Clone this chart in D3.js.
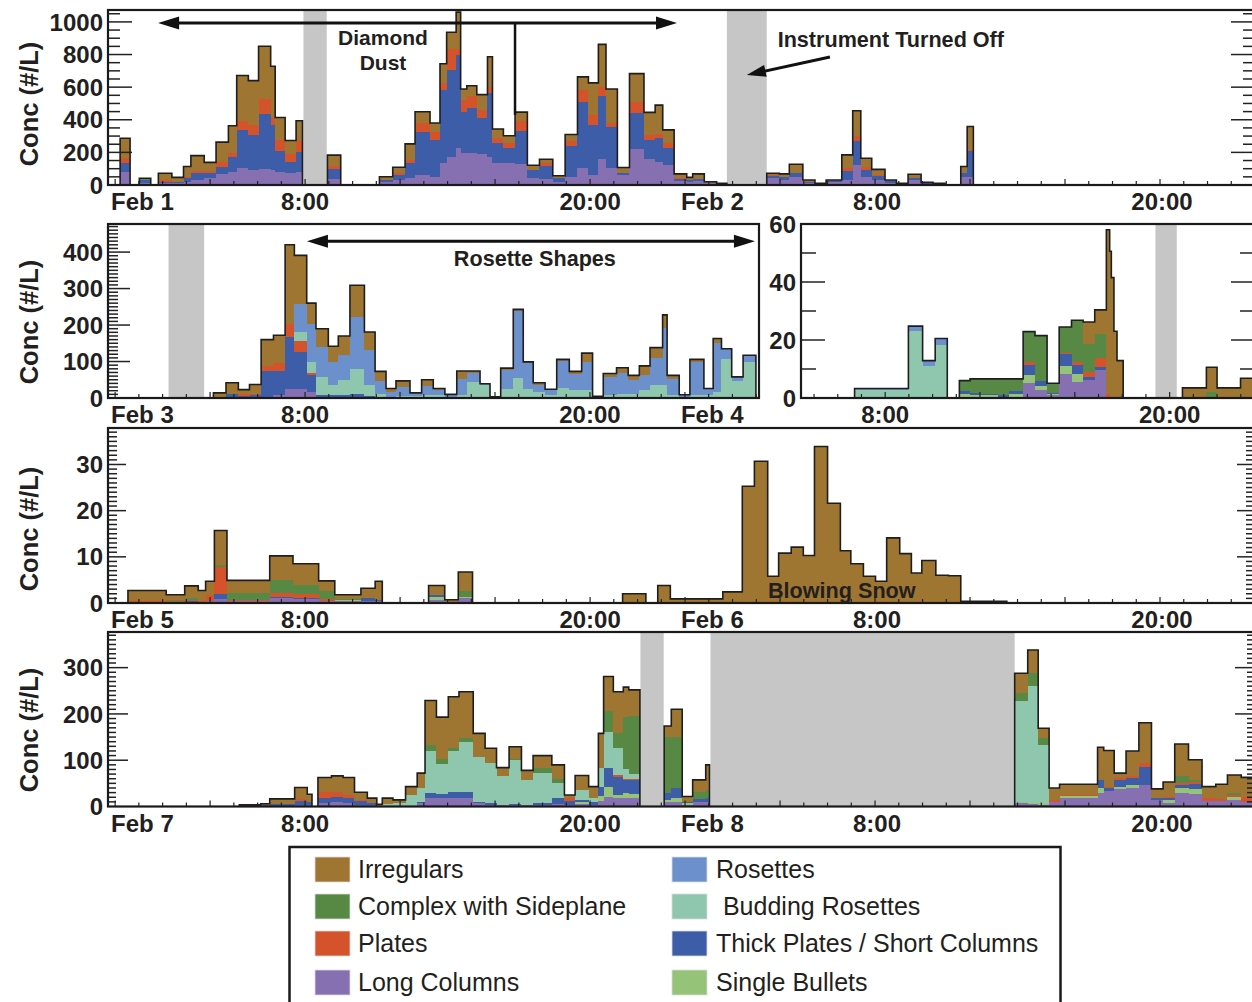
<!DOCTYPE html>
<html><head><meta charset="utf-8">
<script src="https://cdn.jsdelivr.net/npm/d3@7"></script>
<style>
html,body{margin:0;padding:0;background:#fff;overflow:hidden;}
svg{display:block;}
text{font-family:"Liberation Sans",Arial,Helvetica,sans-serif;fill:#231f20;}
</style></head><body>
<svg id="chart" width="1252" height="1002"></svg>
<script>
// ---------------- DATA ----------------
// stacking order bottom -> top
const categories = ["Long Columns","Single Bullets","Thick Plates / Short Columns","Plates","Budding Rosettes","Rosettes","Complex with Sideplane","Irregulars"];
const keys = ["LC","SB","TP","PL","BR","RO","CS","IR"];
const colors = ["#8670b2","#95c479","#3d5da8","#d4532b","#8ec7ae","#6c90cc","#578945","#9f7631"];
const legendLeft = ["Irregulars","Complex with Sideplane","Plates","Long Columns"];
const legendRight = ["Rosettes"," Budding Rosettes","Thick Plates / Short Columns","Single Bullets"];

// bins: [startHour, endHour, LC, SB, TP, PL, BR, RO, CS, IR]  (concentration #/L)
const binsFeb1_2 = [
[0.21,0.63,82,0,55,31,0,0,0,119],[1.02,1.50,10,0,22,0,0,0,3,6],[1.82,2.39,10,0,10,11,0,0,0,41],
[2.39,2.88,10,0,10,0,0,0,0,27],[2.88,3.19,20,0,21,10,0,0,0,62],[3.19,3.75,31,0,41,16,0,0,0,92],
[3.75,4.25,41,0,35,12,0,0,0,51],[4.25,4.77,68,0,45,31,0,0,0,119],[4.77,5.12,82,0,92,21,0,0,0,168],
[5.12,5.61,103,0,235,52,0,0,0,281],[5.61,6.04,92,0,216,57,0,0,0,275],[6.04,6.55,98,0,339,92,0,0,0,322],
[6.55,6.74,92,0,277,41,0,0,0,318],[6.74,7.16,82,0,129,66,0,0,0,137],[7.16,7.62,76,0,68,47,0,0,0,82],
[7.62,7.89,82,0,123,62,0,0,0,127],[8.94,9.50,35,0,61,23,0,0,0,64],[11.13,11.69,20,0,11,0,0,0,0,20],
[11.69,12.21,31,0,31,10,0,0,0,37],[12.21,12.63,41,0,92,21,0,0,0,98],[12.63,13.26,62,0,264,53,0,0,0,70],
[13.26,13.68,47,0,230,49,0,0,0,54],[13.68,13.96,137,0,448,41,0,0,0,117],[13.96,14.36,174,0,534,123,0,0,0,106],
[14.36,14.55,226,0,574,31,0,0,0,229],[14.55,14.81,195,0,254,74,0,0,0,66],[14.81,15.23,195,0,275,74,0,0,0,65],
[15.23,15.68,191,0,219,52,0,0,0,92],[15.68,15.89,174,0,390,36,0,0,0,186],[15.89,16.35,137,0,119,31,0,0,0,56],
[16.35,16.84,133,0,93,30,0,0,0,46],[16.84,17.36,129,0,203,62,0,0,0,53],[17.36,17.87,45,0,47,0,0,0,0,29],
[17.87,18.43,35,0,84,18,0,0,0,21],[18.43,18.95,20,0,21,0,0,0,0,16],[18.95,19.47,51,0,189,27,0,0,0,43],
[19.47,19.93,103,0,404,73,0,0,0,83],[19.93,20.35,62,0,307,62,0,0,0,195],[20.35,20.67,158,0,386,57,0,0,0,261],
[20.67,21.15,103,0,252,24,0,0,0,210],[21.15,21.66,62,0,10,0,0,0,0,35],[21.66,22.27,222,0,219,66,0,0,0,176],
[22.27,22.74,158,0,119,31,0,0,0,137],[22.74,23.06,144,0,143,25,0,0,0,178],[23.06,23.54,123,0,103,30,0,0,0,82],
[23.54,24.07,25,0,12,4,0,0,0,27],[24.07,24.32,20,0,10,0,0,0,0,17],[24.32,24.81,25,0,10,0,0,0,0,33],
[24.81,25.33,10,0,5,0,0,0,0,5],[25.33,25.76,5,0,5,0,0,0,0,0],[27.44,27.97,41,0,14,6,0,0,0,11],
[27.97,28.39,31,0,16,0,0,0,0,21],[28.39,28.96,51,0,21,0,0,0,0,55],[28.96,29.47,15,0,6,0,0,0,0,10],
[29.47,29.94,5,0,5,0,0,0,0,0],[29.94,30.60,18,0,5,3,0,0,0,5],[30.60,31.06,31,0,57,15,0,0,0,82],
[31.06,31.40,123,0,144,35,0,0,0,153],[31.40,31.86,47,0,45,21,0,0,0,51],[31.86,32.42,31,0,24,7,0,0,0,34],
[32.42,32.90,15,0,10,0,0,0,0,6],[32.90,33.39,5,0,5,0,0,0,0,0],[33.39,33.94,31,0,10,0,0,0,0,25],
[33.94,34.44,8,0,4,0,0,0,0,4],[34.44,34.95,4,0,6,0,0,0,0,0],[35.61,35.88,51,0,21,0,0,0,0,41],
[35.88,36.14,51,0,160,4,0,0,0,144]
];
const binsFeb3_4 = [
[4.14,4.67,1,0,3,0,0,0,0,10],[4.67,5.19,3,0,9,0,0,0,0,30],[5.19,5.66,2,0,3,7,0,0,0,11],
[5.66,6.15,3,0,4,5,0,0,0,25],[6.15,6.67,3,0,70,15,0,0,0,72],[6.67,7.16,7,0,66,23,0,0,0,76],
[7.16,7.55,24,0,143,37,0,0,0,216],[7.55,8.07,26,0,100,29,26,76,0,134],[8.07,8.46,16,0,48,5,30,105,0,56],
[8.46,8.98,4,0,3,0,51,82,0,50],[8.98,9.40,3,0,4,0,30,62,0,43],[9.40,9.89,3,0,4,0,41,69,0,53],
[9.89,10.50,3,0,9,0,68,142,0,87],[10.50,10.95,2,0,3,0,30,96,0,50],[10.95,11.41,0,0,0,0,12,35,0,26],
[11.41,11.83,0,0,0,0,3,13,0,10],[11.83,12.42,0,0,0,0,5,25,0,17],[12.42,12.91,0,0,0,0,5,9,0,0],
[12.91,13.40,0,0,0,0,9,24,0,17],[13.40,13.89,0,0,0,0,7,14,0,5],[13.89,14.39,0,0,0,0,3,7,0,0],
[14.39,14.81,0,0,0,0,7,46,0,21],[14.81,15.37,0,0,0,0,44,25,0,5],[15.37,15.79,0,0,0,0,35,4,0,0],
[15.79,16.24,0,0,0,0,1,2,0,0],[16.24,16.77,0,0,0,0,26,50,0,6],[16.77,17.19,0,0,0,0,55,183,0,5],
[17.19,17.61,0,0,0,0,26,71,0,2],[17.61,18.11,0,0,0,0,16,21,0,5],[18.11,18.60,0,0,0,0,7,15,0,2],
[18.60,19.13,0,0,0,0,27,74,0,5],[19.13,19.65,0,0,0,0,21,46,0,6],[19.65,20.11,0,0,0,0,21,78,0,24],
[20.11,20.56,0,0,0,0,2,3,0,0],[20.56,21.12,0,0,0,0,9,49,0,9],[21.12,21.61,0,0,0,0,12,57,0,14],
[21.61,22.08,0,0,0,0,12,36,0,14],[22.08,22.53,0,0,0,0,21,43,0,24],[22.53,23.06,0,0,0,0,37,73,0,28],
[23.06,23.25,0,0,0,0,35,158,0,35],[23.25,23.76,0,0,0,0,7,46,0,9],[23.76,24.21,0,0,0,0,3,6,0,0],
[24.21,24.80,0,0,0,0,9,90,0,7],[24.80,25.19,0,0,0,0,7,19,0,0],[25.19,25.54,0,0,0,0,16,136,0,11],
[25.54,25.97,0,0,0,0,106,29,0,0],[25.97,26.45,0,0,0,0,46,12,0,0],[26.45,26.99,0,0,0,0,100,17,0,0]
];
const binsFeb4 = [
[6.71,8.98,0,0,0,0,2.9,0.4,0,0],[8.98,9.58,0,0,0,0,23,1.8,0,0],[9.58,10.11,0,0,0,0,11.2,1.7,0,0],
[10.11,10.62,0,0,0,0,18.4,2.1,0,0],[11.13,11.58,0.4,1.1,0.9,0,0,0,3.6,0],[11.58,12.00,0.4,0.8,0.6,0,0,0,4.8,0],
[12.00,12.77,0.2,0.7,0.6,0,0,0,5.1,0],[12.77,13.23,0.2,0,0.7,0,0,0,5.7,0],[13.23,13.82,0.4,0.9,1.1,0,0,0,4.2,0],
[13.82,14.32,5.1,2.7,3.7,0.9,0,0,10.5,0],[14.32,14.83,2.9,1.3,1.8,0,0,0,15.5,0],[14.83,15.34,0.9,0.6,0.3,0,0,0,3.3,0],
[15.34,15.86,8.2,2.7,4.2,0.5,0,0,8.9,0],[15.86,16.35,5.6,2.6,3.3,0.9,0,0,14.4,0],[16.35,16.84,6.2,0,1.2,1.4,0,0,9.8,7.6],
[16.84,17.33,9.8,0,0.8,3.3,0,0,8.2,8.3],[17.33,17.47,0,0,0,1.5,0,0,0,56.5],[17.47,17.54,0,0,0,0,0,0,0,50.6],
[17.54,17.65,0,0,0,0,0,0,0,41.5],[17.65,17.78,0,0,0,0,0,0,0,23],[17.78,18.04,0,0,0,0,0,0,0,12.9],
[20.54,21.55,0,0,0,0,0,0,0,3.5],[21.55,22.00,0.3,0,0,0,0,0,1.9,8.4],[22.00,22.99,0,0,0,0,0,0,0.3,3.2],
[22.99,23.60,0,0,0,0.4,0,0,0,6.4]
];
const binsFeb5_6 = [
[0.54,2.15,0.2,0,0,0.2,0,0,0,2.3],[2.15,2.93,0.2,0,0,0.2,0,0,0.3,1.1],[2.93,3.50,0.3,0,0.2,0.2,0,0,0.4,2.6],
[3.50,3.81,0.3,0,0,0.2,0,0,0,2.2],[3.81,4.18,0.4,0,0,1.4,0,0,0,2.9],[4.18,4.71,0.9,0,1.0,5.8,0,0,0.5,7.5],
[4.71,6.51,0.4,0,0,0.3,0,0,1.5,2.7],[6.51,7.49,1.1,0,0.3,0.8,0,0,2.7,5.3],[7.49,8.57,0.9,0,0.2,0.8,0,0,1.9,4.7],
[8.57,9.25,0.5,0,0,0.4,0,0,1.6,2.3],[9.25,10.35,0.4,0.3,0,0,0,0,0.2,0.9],[10.35,10.95,0.4,0,0.7,0,0,0,0,2.1],
[10.95,11.25,0.4,0,0.3,0,0,0,0,4.0],[13.20,13.88,0.7,0.7,0.4,0,0,0,0,2.0],[13.88,14.45,0,0,0,0,0,0,0,0.7],
[14.45,15.05,1.1,0.2,0,0,0,0,1.4,4.0],[21.37,22.35,0,0,0,0,0,0,0,2.0],[22.85,23.38,0,0,0,0,0,0,0,3.8],
[23.38,25.59,0,0,0,0,0,0,0,0.9],[25.59,26.41,0,0,0,0,0,0,0,2.4],[26.41,26.92,0,0,0,0,0,0,0,25.3],
[26.92,27.48,0,0,0,0,0,0,0,30.7],[27.48,27.94,0,0,0,0,0,0,0,5.8],[27.94,28.47,0,0,0,0,0,0,0,10.8],
[28.47,28.98,0,0,0,0,0,0,0,12.1],[28.98,29.45,0,0,0,0,0,0,0,10.3],[29.45,30.00,0,0,0,0,0,0,0,33.9],
[30.00,30.54,0,0,0,0,0,0,0,21.6],[30.54,30.98,0,0,0,0,0,0,0,11.3],[30.98,31.51,0,0,0,0,0,0,0,8.5],
[31.51,32.02,0,0,0,0,0,0,0,5.8],[32.02,32.49,0,0,0,0,0,0,0,4.7],[32.49,33.04,0,0,0,0,0,0,0,14.1],
[33.04,33.53,0,0,0,0,0,0,0,10.7],[33.53,33.97,0,0,0,0,0,0,0,6.5],[33.97,34.56,0,0,0,0,0,0,0,9.2],
[34.56,35.09,0,0,0,0,0,0,0,6.0],[35.09,35.61,0,0,0,0,0,0,0,5.9],[35.61,37.55,0,0,0,0,0,0,0,0.36]
];
const binsFeb7_8 = [
[5.23,6.13,1,0,0,0,0,0,0,2.6],[6.13,6.51,1.5,0,1,0,0,0,0,3.3],[6.51,7.56,1.4,0,3.6,0,0,0,0,11.5],
[7.56,8.09,3.6,0,8.4,4.5,0,0,0,24.5],[8.09,8.29,3.6,0,7.2,0,0,0,0,15.8],[8.54,9.11,7.2,0,12.2,11.5,0,0,0,31.7],
[9.11,9.60,9.4,0,12.2,10.8,0,0,0,33.8],[9.60,10.08,7.2,0,12.2,5.6,0,0,0,37.6],[10.08,10.62,3.6,0,8.4,2.4,0,0,0,16.5],
[10.62,11.02,2.2,0,5,0,0,0,0,10.8],[11.02,11.25,1,0,1,0,0,0,0,3],[11.25,11.70,1,0,0,0,4,0,0,13],
[11.70,12.23,1,0,0,0,6.2,0,0,7.2],[12.23,12.72,1.4,0,0,0,23.6,0,0,18],[12.72,13.05,7.2,0,3.6,0,29.2,0,0,32],
[13.05,13.53,19.4,0,9.4,0,91.2,0,12,97],[13.53,14.03,18,0,8.6,0,64.4,0,11,91],[14.03,14.48,19.4,0,13,0,86.6,0,7,111],
[14.48,15.08,19.4,0,13,0,107.6,0,7,101],[15.08,15.58,7.2,0,3.6,0,95.2,0,0,52],[15.58,16.06,3.6,0,3.6,0,86.8,0,0,32],
[16.06,16.59,2.2,0,0,0,62.8,0,0,19],[16.59,17.11,3.6,0,2.2,0,95.2,0,2,26],[17.11,17.60,3.6,0,0,0,54.4,0,0,20],
[17.60,18.39,3.6,0,3.6,0,64.8,0,11,27],[18.39,18.92,5,0,13,0,32,0,10,30],[18.92,19.37,3.6,0,8,6,0,0,0,7.4],
[19.37,19.94,5,5.8,3.6,0,21.6,0,0,31],[19.94,20.35,3.6,0,7.2,0,8.6,0,0,23.6],[20.35,20.57,12,11.7,19.3,0,40,0,0,75],
[20.57,20.98,21.6,21.4,40,0,79,0,44,75],[20.98,21.40,19.4,5.6,38,4,59,0,32,90],[21.40,21.63,18,11,29,2,20,0,114,64],
[21.63,22.10,18,9,31,2,10,0,126,56],[23.12,23.42,9.4,5,14.4,0,0,0,122,23],[23.42,23.88,10.8,7.2,23,0,0,0,110,59],
[23.88,24.32,3.6,3.6,3.6,0,0,0,0,10.8],[24.32,24.87,10.8,0,5.7,0,0,0,15.5,25.6],[24.87,25.03,9.4,0,8.6,0,0,0,18,54],
[37.88,38.43,7.2,3.6,0,0,217,0,17,43],[38.43,38.87,5,2.2,0,0,253,0,28,50],[38.87,39.33,3.6,3.6,0,0,125,0,15,22],
[39.33,39.77,10.8,0,0,3.6,0,0,0,25.6],[39.77,41.37,19.4,4.3,0,1.3,0,0,0,23],[41.37,41.63,29,11,18,0,0,0,0,70],
[41.63,42.07,34,0,7,2,0,0,0,78],[42.07,42.57,38,5,15,3,0,0,0,11],[42.57,43.11,40,7,14,4,0,0,0,55],
[43.11,43.64,47,0,39,8,0,0,0,87],[43.64,44.13,14,0,4,0,0,0,0,20],[44.13,44.62,7.2,7.2,5,2.2,0,0,0,31.4],
[44.62,45.20,29,11,7,3,0,0,15,70],[45.20,45.77,27,10,11,4,0,0,6,43],[45.77,46.35,12,0,0,6,0,0,0,25],
[46.35,46.84,12,0,0,4.5,0,0,0,31.5],[46.84,47.42,14,7.6,0,3.4,0,0,4,39],[47.42,48.00,10.8,0,0,9.2,0,0,0,43]
];

// instrument-off periods (hours)
const offFeb1_2 = [[7.93,8.91],[25.76,27.44]];
const offFeb3_4 = [[2.25,3.75]];
const offFeb4 = [[19.4,20.3]];
const offFeb5_6 = [];
const offFeb7_8 = [[22.12,23.1],[25.07,37.88]];

// tick labels
const yTicksP1 = [0,200,400,600,800,1000];
const yTicksP2 = [0,100,200,300,400];
const yTicksP3 = [0,20,40,60];
const yTicksP4 = [0,10,20,30];
const yTicksP5 = [0,100,200,300];
const xLabelsFeb1_2 = [[0,"Feb 1"],[8,"8:00"],[20,"20:00"],[24,"Feb 2"],[32,"8:00"],[44,"20:00"]];
const xLabelsFeb3_4 = [[0,"Feb 3"],[8,"8:00"],[20,"20:00"],[24,"Feb 4"]];
const xLabelsFeb4 = [[8,"8:00"],[20,"20:00"]];
const xLabelsFeb5_6 = [[0,"Feb 5"],[8,"8:00"],[20,"20:00"],[24,"Feb 6"],[32,"8:00"],[44,"20:00"]];
const xLabelsFeb7_8 = [[0,"Feb 7"],[8,"8:00"],[20,"20:00"],[24,"Feb 8"],[32,"8:00"],[44,"20:00"]];
const yTitle = "Conc (#/L)";

// ---------------- LAYOUT ----------------
const svg = d3.select("#chart");
const panels = [
 {bins:binsFeb1_2, dom:[-0.3,48], px:[108,1255], py:[185,10], yMax:1073, yTicks:yTicksP1, minor:50, major:200, majLen:24, minLen:12, right:true, xLabels:xLabelsFeb1_2, off:offFeb1_2, title:104},
 {bins:binsFeb3_4, dom:[-0.3,27.12], px:[108,759], py:[398,224], yMax:477, yTicks:yTicksP2, minor:10, major:100, majLen:22, minLen:10, right:false, xLabels:xLabelsFeb3_4, off:offFeb3_4, title:322},
 {bins:binsFeb4, dom:[4.45,23.6], px:[801,1255], py:[398,224], yMax:60, yTicks:yTicksP3, minor:10, major:20, majLen:24, minLen:15, right:true, xLabels:xLabelsFeb4, off:offFeb4, title:null},
 {bins:binsFeb5_6, dom:[-0.3,48], px:[108,1255], py:[603,428], yMax:37.9, yTicks:yTicksP4, minor:1, major:10, majLen:18, minLen:9, right:true, xLabels:xLabelsFeb5_6, off:offFeb5_6, title:529},
 {bins:binsFeb7_8, dom:[-0.3,48], px:[108,1255], py:[806.5,632], yMax:377, yTicks:yTicksP5, minor:10, major:100, majLen:20, minLen:8, right:true, xLabels:xLabelsFeb7_8, off:offFeb7_8, title:730}
];

const defs = svg.append("defs");

panels.forEach((p, idx) => {
  const x = d3.scaleLinear().domain(p.dom).range(p.px);
  const y = d3.scaleLinear().domain([0, p.yMax]).range(p.py);
  p.x = x; p.y = y;
  const [xl, xr] = p.px, [yb, yt] = p.py;
  const clipId = "clip" + idx;
  defs.append("clipPath").attr("id", clipId).append("rect")
    .attr("x", xl).attr("y", yt).attr("width", xr - xl).attr("height", yb - yt);
  const g = svg.append("g");
  const plot = g.append("g").attr("clip-path", `url(#${clipId})`);

  plot.selectAll("rect.off").data(p.off).join("rect").attr("class","off")
    .attr("x", d => x(d[0])).attr("width", d => x(d[1]) - x(d[0]))
    .attr("y", yt).attr("height", yb - yt).attr("fill", "#c6c6c6");

  const rows = p.bins.map(b => { const o = {t0:b[0], t1:b[1]}; keys.forEach((k,i) => o[k] = b[2+i]); return o; });
  const series = d3.stack().keys(keys)(rows);
  plot.selectAll("g.layer").data(series).join("g").attr("class","layer")
    .attr("fill", (d,i) => colors[i]).attr("shape-rendering","crispEdges")
    .selectAll("rect").data(d => d.filter(v => v[1] - v[0] > 0)).join("rect")
    .attr("x", d => x(d.data.t0)).attr("width", d => x(d.data.t1) - x(d.data.t0))
    .attr("y", d => y(d[1])).attr("height", d => y(d[0]) - y(d[1]));

  // outline of totals
  let path = "";
  rows.forEach((r, i) => {
    const tot = d3.sum(keys, k => r[k]);
    const prev = rows[i-1];
    if (!prev || Math.abs(prev.t1 - r.t0) > 0.02) {
      if (prev) path += `V${y(0)}`;
      path += `M${x(r.t0)},${y(0)}`;
    }
    path += `V${y(tot)}H${x(r.t1)}`;
  });
  path += `V${y(0)}`;
  plot.append("path").attr("d", path).attr("fill","none").attr("stroke","#1e1e1e").attr("stroke-width",1.6);

  // x ticks (hourly)
  const hours = d3.range(Math.ceil(p.dom[0]), Math.floor(p.dom[1]) + 1).filter(h => x(h) > xl + 2 && x(h) < xr - 2);
  g.selectAll("line.xt").data(hours).join("line")
    .attr("x1", d => x(d)).attr("x2", d => x(d)).attr("y1", yb).attr("y2", d => yb - (d % 4 === 0 ? 6 : 4))
    .attr("stroke","#222").attr("stroke-width",1.2);

  // y ticks
  const majors = d3.range(p.major, p.yMax, p.major);
  const minors = d3.range(p.minor, p.yMax, p.minor).filter(v => Math.abs(v/p.major - Math.round(v/p.major)) > 1e-6);
  const tickSets = [[majors, p.majLen], [minors, p.minLen]];
  tickSets.forEach(([vals, len]) => {
    g.append("g").selectAll("line").data(vals).join("line")
      .attr("x1", xl).attr("x2", xl + len).attr("y1", d => y(d)).attr("y2", d => y(d))
      .attr("stroke","#222").attr("stroke-width",1.5);
    if (p.right) g.append("g").selectAll("line").data(vals).join("line")
      .attr("x1", xr).attr("x2", xr - len).attr("y1", d => y(d)).attr("y2", d => y(d))
      .attr("stroke","#222").attr("stroke-width",1.5);
  });

  // frame
  g.append("rect").attr("x", xl).attr("y", yt).attr("width", xr - xl).attr("height", yb - yt)
    .attr("fill","none").attr("stroke","#1a1a1a").attr("stroke-width",2.2);

  // y labels
  g.selectAll("text.yl").data(p.yTicks).join("text")
    .attr("x", xl - 5).attr("y", d => y(d)).attr("dy","0.36em")
    .attr("text-anchor","end").attr("font-size",24).attr("font-weight","bold").text(d => d);

  // x labels
  g.selectAll("text.xl").data(p.xLabels).join("text")
    .attr("x", d => d[1].startsWith("Feb") ? x(d[0]) - 4 : x(d[0]) + (d[0] > 24 && p.px[0] < 200 ? 2 : 0))
    .attr("y", yb + 25)
    .attr("text-anchor", d => d[1].startsWith("Feb") ? "start" : "middle")
    .attr("font-size",24).attr("font-weight","bold").text(d => d[1]);

  if (p.title !== null) {
    svg.append("text").attr("transform", `translate(29,${p.title}) rotate(-90)`)
      .attr("text-anchor","middle").attr("dy","0.36em")
      .attr("font-size",25.5).attr("font-weight","bold").text(yTitle);
  }
});

// ---------------- ANNOTATIONS ----------------
function arrowHead(g, x1, y1, x2, y2, L, hw) {
  const a = Math.atan2(y2 - y1, x2 - x1);
  const bx = x2 - L*Math.cos(a), by = y2 - L*Math.sin(a);
  const px = -Math.sin(a)*hw, py = Math.cos(a)*hw;
  g.append("path").attr("d", `M${x2},${y2}L${bx+px},${by+py}L${bx-px},${by-py}Z`).attr("fill","#111");
}
function doubleArrow(g, xa, xb, yy) {
  g.append("line").attr("x1", xa + 10).attr("x2", xb - 10).attr("y1", yy).attr("y2", yy).attr("stroke","#111").attr("stroke-width",3);
  arrowHead(g, xb, yy, xa, yy, 21, 6.5);
  arrowHead(g, xa, yy, xb, yy, 21, 6.5);
}
const annFont = 21.6;
const ann = svg.append("g");
{
  const p = panels[0], x = p.x, y = p.y;
  doubleArrow(ann, x(1.81), x(23.66), 23);
  ann.append("line").attr("x1", x(16.84)).attr("x2", x(16.84)).attr("y1", 23).attr("y2", y(430)).attr("stroke","#111").attr("stroke-width",2.5);
  ann.append("text").attr("x", x(11.28)).attr("y", 45).attr("text-anchor","middle").attr("font-size",21).attr("font-weight","bold").attr("fill","#2a2a2a").text("Diamond");
  ann.append("text").attr("x", x(11.28)).attr("y", 70).attr("text-anchor","middle").attr("font-size",21).attr("font-weight","bold").attr("fill","#2a2a2a").text("Dust");
  ann.append("text").attr("x", x(27.9)).attr("y", 47).attr("font-size",annFont).attr("font-weight","bold").attr("fill","#2a2a2a").text("Instrument Turned Off");
  const ax1 = x(30.1), ay1 = y(785), ax2 = x(26.6), ay2 = y(675);
  ann.append("line").attr("x1", ax1).attr("y1", ay1).attr("x2", ax2 + 12).attr("y2", ay2 - 2.5).attr("stroke","#111").attr("stroke-width",3);
  arrowHead(ann, ax1, ay1, ax2, ay2, 19, 6);
}
{
  const p = panels[1], x = p.x, y = p.y;
  doubleArrow(ann, x(8.08), x(26.95), y(430));
  ann.append("text").attr("x", x(17.68)).attr("y", 266).attr("text-anchor","middle").attr("font-size",annFont).attr("font-weight","bold").attr("fill","#2a2a2a").text("Rosette Shapes");
}
{
  const p = panels[3], x = p.x;
  ann.append("text").attr("x", x(30.6)).attr("y", 598).attr("text-anchor","middle").attr("font-size",annFont).attr("font-weight","bold").attr("fill","#1a1a1a").text("Blowing Snow");
}

// ---------------- LEGEND ----------------
const leg = svg.append("g");
leg.append("rect").attr("x", 289.5).attr("y", 847).attr("width", 771).attr("height", 170)
  .attr("fill","#fff").attr("stroke","#1a1a1a").attr("stroke-width",2.5);
const rowY = [869, 906, 943, 982];
[[legendLeft, 315, 358], [legendRight, 672, 716]].forEach(([names, sx, tx]) => {
  names.forEach((n, i) => {
    const ci = categories.indexOf(n.trim());
    leg.append("rect").attr("x", sx).attr("y", rowY[i] - 12).attr("width", 35).attr("height", 25)
      .attr("fill", colors[ci]).attr("stroke","#ddd").attr("stroke-width",0.8);
    leg.append("text").attr("x", tx).attr("y", rowY[i]).attr("dy","0.36em").attr("font-size",25)
      .attr("xml:space","preserve").style("white-space","pre").text(n);
  });
});
</script>
</body></html>
